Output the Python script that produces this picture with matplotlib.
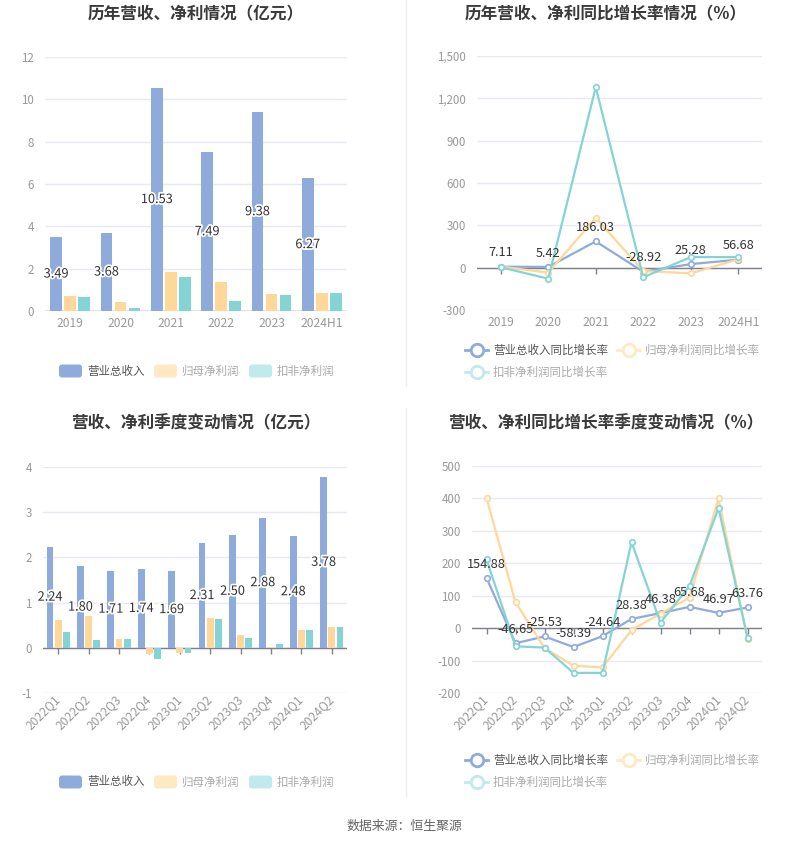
import matplotlib
matplotlib.use('Agg')
import matplotlib.pyplot as plt
from matplotlib.patches import FancyBboxPatch
import matplotlib.patheffects as pe
from matplotlib.ticker import FuncFormatter

# ---------------- data ----------------
years = ['2019', '2020', '2021', '2022', '2023', '2024H1']
rev_annual = [3.49, 3.68, 10.53, 7.49, 9.38, 6.27]
np_annual = [0.71, 0.43, 1.86, 1.35, 0.82, 0.85]
dnp_annual = [0.66, 0.14, 1.62, 0.46, 0.77, 0.83]

rev_g_annual = [7.11, 5.42, 186.03, -28.92, 25.28, 56.68]
np_g_annual = [7, -35, 353, -24, -40, 59]
dnp_g_annual = [3, -78, 1279, -68, 75, 75]

quarters = ['2022Q1', '2022Q2', '2022Q3', '2022Q4', '2023Q1',
            '2023Q2', '2023Q3', '2023Q4', '2024Q1', '2024Q2']
rev_q = [2.24, 1.80, 1.71, 1.74, 1.69, 2.31, 2.50, 2.88, 2.48, 3.78]
np_q = [0.61, 0.71, 0.20, -0.13, -0.11, 0.67, 0.29, 0.01, 0.39, 0.46]
dnp_q = [0.36, 0.18, 0.19, -0.24, -0.12, 0.63, 0.22, 0.09, 0.39, 0.45]

rev_g_q = [154.88, -46.65, -25.53, -58.39, -24.64, 28.38, 46.38, 65.68, 46.97, 63.76]
np_g_q = [401, 80, -61, -116, -121, -6, 45, 94, 400, -32]
dnp_g_q = [212, -56, -60, -138, -138, 265, 17, 130, 370, -29]

bar_names = ['营业总收入', '归母净利润', '扣非净利润']
line_names = ['营业总收入同比增长率', '归母净利润同比增长率', '扣非净利润同比增长率']
titles = ['历年营收、净利情况（亿元）', '历年营收、净利同比增长率情况（%）',
          '营收、净利季度变动情况（亿元）', '营收、净利同比增长率季度变动情况（%）']
source_text = '数据来源：恒生聚源'

# ---------------- style ----------------
plt.rcParams['font.family'] = ['Noto Sans CJK SC', 'DejaVu Sans']
plt.rcParams['axes.unicode_minus'] = False

C_BLUE = '#8EABDB'
C_ORANGE = '#FFD799'
C_TEAL = '#84D4D6'
C_ORANGE_L = '#FFE8C4'
C_TEAL_L = '#C0EAEB'
GRID = '#E6EAF2'
AXIS = '#7E818A'
TICKC = '#999999'

W, H = 807, 846
fig = plt.figure(figsize=(W / 100, H / 100), dpi=100)

# overlay for titles, legends, dividers
ov = fig.add_axes([0, 0, 1, 1])
ov.set_xlim(0, W)
ov.set_ylim(H, 0)
ov.axis('off')
ov.patch.set_alpha(0)


def add_ax(l, t, r, b):
    return fig.add_axes([l / W, 1 - b / H, (r - l) / W, (b - t) / H])


def style_ax(ax, n, ylim, yticks, labels, rotate=False, ticks=True, fmt=None):
    ax.set_xlim(-0.5, n - 0.5)
    ax.set_ylim(*ylim)
    ax.set_yticks(yticks)
    if fmt:
        ax.yaxis.set_major_formatter(FuncFormatter(fmt))
    for s in ax.spines.values():
        s.set_visible(False)
    ax.grid(axis='y', color=GRID, lw=1)
    ax.set_axisbelow(True)
    ax.tick_params(axis='y', length=0, pad=8, labelsize=8.3, labelcolor=TICKC)
    ax.tick_params(axis='x', length=0, pad=4 if not rotate else 3,
                   labelsize=8.7, labelcolor=TICKC)
    ax.set_xticks(range(n))
    if rotate:
        ax.set_xticklabels(labels, rotation=45, ha='right', va='center',
                           rotation_mode='anchor')
    else:
        ax.set_xticklabels(labels)
    ax.axhline(0, color=AXIS, lw=1, zorder=2)
    if ticks:
        ax.plot(range(n), [0] * n, ls='none', marker=3, ms=4, mew=1,
                color=AXIS, clip_on=False, zorder=2)


stroke = [pe.withStroke(linewidth=2.5, foreground='white')]


def bars(ax, a, b, c, width, off):
    x = range(len(a))
    ax.bar([i - off for i in x], a, width, color=C_BLUE, zorder=3)
    ax.bar(list(x), b, width, color=C_ORANGE, zorder=3)
    ax.bar([i + off for i in x], c, width, color=C_TEAL, zorder=3)
    for i, v in enumerate(a):
        ax.text(i - off, v / 2, f'{v:.2f}', ha='center', va='center',
                fontsize=9.2, color='#333333', path_effects=stroke, zorder=5)


def lines(ax, a, b, c):
    x = range(len(a))
    for vals, col, z in ((a, C_BLUE, 4), (b, C_ORANGE, 5), (c, C_TEAL, 6)):
        ax.plot(list(x), vals, color=col, lw=1.6, marker='o', ms=4,
                mfc='white', mec=col, mew=1.2, zorder=z)
    for i, v in enumerate(a):
        ax.annotate(f'{v:.2f}', (i, v), xytext=(0, 10), textcoords='offset points',
                    ha='center', va='center', fontsize=9.2, color='#333333',
                    zorder=8)


# ---- top-left ----
ax1 = add_ax(45, 57, 347, 311)
style_ax(ax1, len(years), (0, 12), [0, 2, 4, 6, 8, 10, 12], years, ticks=False)
bars(ax1, rev_annual, np_annual, dnp_annual, 0.23, 0.28)

# ---- top-right ----
ax2 = add_ax(477, 56, 762, 310)
style_ax(ax2, len(years), (-300, 1500), [-300, 0, 300, 600, 900, 1200, 1500], years,
         fmt=lambda v, p: f'{int(v):,}')
lines(ax2, rev_g_annual, np_g_annual, dnp_g_annual)

# ---- bottom-left ----
ax3 = add_ax(43, 467, 347, 693)
style_ax(ax3, len(quarters), (-1, 4), [-1, 0, 1, 2, 3, 4], quarters, rotate=True)
bars(ax3, rev_q, np_q, dnp_q, 0.22, 0.27)

# ---- bottom-right ----
ax4 = add_ax(472, 466, 762, 693)
style_ax(ax4, len(quarters), (-200, 500), [-200, -100, 0, 100, 200, 300, 400, 500],
         quarters, rotate=True)
lines(ax4, rev_g_q, np_g_q, dnp_g_q)

# ---- titles ----
for (x, y), t in zip([(196, 14), (606, 14), (196, 423), (606, 423)], titles):
    ov.text(x, y, t, ha='center', va='center', fontsize=12, fontweight='bold',
            color='#3A3A3A')

# ---- dividers ----
ov.plot([406, 406], [0, 386], color='#EEEEEE', lw=1)
ov.plot([406, 406], [408, 796], color='#EEEEEE', lw=1)


# ---- bar legends ----
def bar_legend(y):
    items = [(59, C_BLUE, '#555555'), (154, C_ORANGE_L, '#AAAAAA'),
             (249, C_TEAL_L, '#AAAAAA')]
    for (x, col, tc), name in zip(items, bar_names):
        ov.add_patch(FancyBboxPatch((x, y - 6.5), 23, 13,
                                    boxstyle='round,pad=0,rounding_size=3',
                                    fc=col, ec='none'))
        ov.text(x + 28, y, name, ha='left', va='center', fontsize=8.3, color=tc)


def line_legend(y1, y2):
    items = [(465, y1, C_BLUE, '#555555'), (617, y1, C_ORANGE_L, '#AAAAAA'),
             (465, y2, C_TEAL_L, '#AAAAAA')]
    for (x, y, col, tc), name in zip(items, line_names):
        ov.plot([x, x + 23], [y, y], color=col, lw=2)
        ov.plot([x + 11.5], [y], marker='o', ms=9, mfc='white', mec=col, mew=2)
        ov.text(x + 28, y, name, ha='left', va='center', fontsize=8.3, color=tc)


bar_legend(371)
bar_legend(782)
line_legend(350, 372)
line_legend(760, 782)

# ---- source ----
ov.text(404, 826, source_text, ha='center', va='center', fontsize=9.3, color='#666666')

fig.savefig('out.png', dpi=100)
